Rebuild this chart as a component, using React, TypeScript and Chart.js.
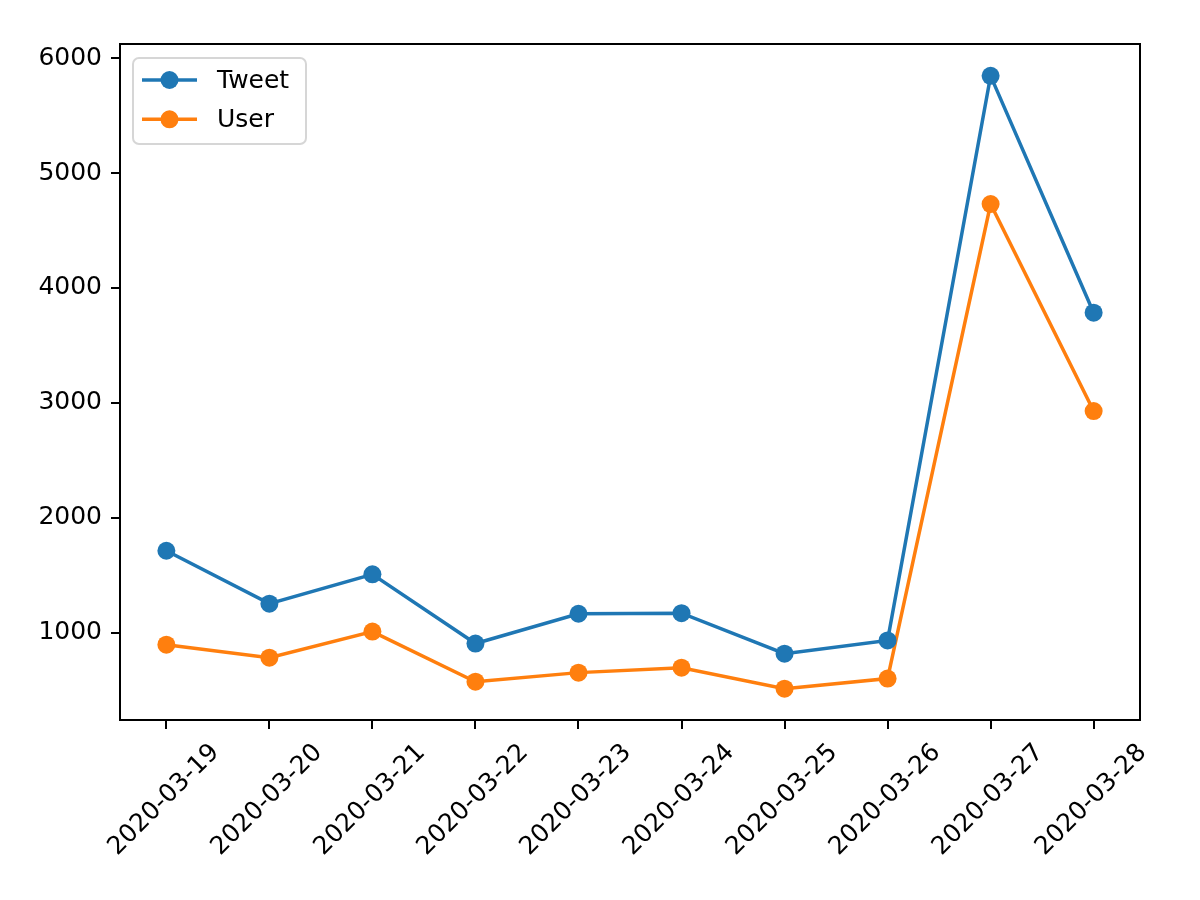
import React, { useEffect, useRef } from "react";
import { Chart, registerables } from "chart.js";

Chart.register(...registerables);

const dates = [
  "2020-03-19", "2020-03-20", "2020-03-21", "2020-03-22", "2020-03-23",
  "2020-03-24", "2020-03-25", "2020-03-26", "2020-03-27", "2020-03-28",
];
const tweetValues = [1715, 1255, 1510, 908, 1167, 1172, 820, 935, 5845, 3785];
const userValues = [898, 785, 1012, 576, 655, 698, 515, 603, 4730, 2930];
const yTicks = [1000, 2000, 3000, 4000, 5000, 6000];
const seriesNames = ["Tweet", "User"];
const seriesColors = ["#1f77b4", "#ff7f0e"];

const FONT = "'DejaVu Sans', sans-serif";
const FONT_SIZE = 25;

const framePlugin = {
  id: "frame",
  afterDraw(chart: any) {
    const { ctx, chartArea } = chart;
    ctx.save();
    ctx.strokeStyle = "#000";
    ctx.lineWidth = 2;
    ctx.strokeRect(chartArea.left, chartArea.top, chartArea.right - chartArea.left, chartArea.bottom - chartArea.top);
    // legend
    const bx = 133, by = 58, bw = 173, bh = 86, r = 6;
    ctx.globalAlpha = 0.8;
    ctx.fillStyle = "#fff";
    ctx.strokeStyle = "#cccccc";
    ctx.lineWidth = 2;
    ctx.beginPath();
    ctx.moveTo(bx + r, by);
    ctx.arcTo(bx + bw, by, bx + bw, by + bh, r);
    ctx.arcTo(bx + bw, by + bh, bx, by + bh, r);
    ctx.arcTo(bx, by + bh, bx, by, r);
    ctx.arcTo(bx, by, bx + bw, by, r);
    ctx.closePath();
    ctx.fill();
    ctx.stroke();
    ctx.globalAlpha = 1;
    seriesNames.forEach((name, i) => {
      const cy = 80 + i * 39.3;
      ctx.strokeStyle = seriesColors[i];
      ctx.lineWidth = 3.5;
      ctx.beginPath();
      ctx.moveTo(142, cy);
      ctx.lineTo(197, cy);
      ctx.stroke();
      ctx.fillStyle = seriesColors[i];
      ctx.beginPath();
      ctx.arc(169.5, cy, 9, 0, Math.PI * 2);
      ctx.fill();
      ctx.fillStyle = "#000";
      ctx.font = `${FONT_SIZE}px ${FONT}`;
      ctx.textBaseline = "middle";
      ctx.textAlign = "left";
      ctx.fillText(name, 217, cy + 1);
    });
    ctx.restore();
  },
};

export default function App() {
  const ref = useRef<HTMLCanvasElement>(null);
  useEffect(() => {
    const chart = new Chart(ref.current!, {
      type: "line",
      data: {
        datasets: [tweetValues, userValues].map((vals, i) => ({
          label: seriesNames[i],
          data: vals.map((v, j) => ({ x: j, y: v })),
          borderColor: seriesColors[i],
          backgroundColor: seriesColors[i],
          borderWidth: 3.5,
          pointRadius: 9,
          pointHoverRadius: 9,
          pointBorderWidth: 0,
          tension: 0,
        })),
      },
      options: {
        animation: false,
        responsive: false,
        layout: { padding: { left: 0, right: 60, top: 44, bottom: 0 } },
        plugins: { legend: { display: false }, tooltip: { enabled: false } },
        scales: {
          x: {
            type: "linear",
            min: -0.45,
            max: 9.45,
            afterBuildTicks: (axis: any) => {
              axis.ticks = dates.map((_, i) => ({ value: i }));
            },
            afterFit: (axis: any) => {
              axis.height = 180;
            },
            ticks: {
              callback: (v: any) => dates[v as number] ?? "",
              minRotation: 45,
              maxRotation: 45,
              color: "#000",
              font: { family: FONT, size: FONT_SIZE },
              labelOffset: 49,
              padding: 9,
            },
            grid: { drawOnChartArea: false, drawTicks: true, tickLength: 9, color: "#000", lineWidth: 2 },
            border: { display: true, color: "#000", width: 2 },
          },
          y: {
            type: "linear",
            min: 243,
            max: 6122,
            afterBuildTicks: (axis: any) => {
              axis.ticks = yTicks.map((v) => ({ value: v }));
            },
            afterFit: (axis: any) => {
              axis.width = 120;
            },
            ticks: {
              callback: (v: any) => String(v),
              color: "#000",
              font: { family: FONT, size: FONT_SIZE },
              padding: 9,
            },
            grid: { drawOnChartArea: false, drawTicks: true, tickLength: 9, color: "#000", lineWidth: 2 },
            border: { display: true, color: "#000", width: 2 },
          },
        },
      },
      plugins: [framePlugin],
    });
    return () => chart.destroy();
  }, []);
  return (
    <div style={{ position: "absolute", left: 0, top: 0, width: 1200, height: 900, background: "#fff" }}>
      <canvas ref={ref} width={1200} height={900} style={{ width: 1200, height: 900 }} />
    </div>
  );
}
